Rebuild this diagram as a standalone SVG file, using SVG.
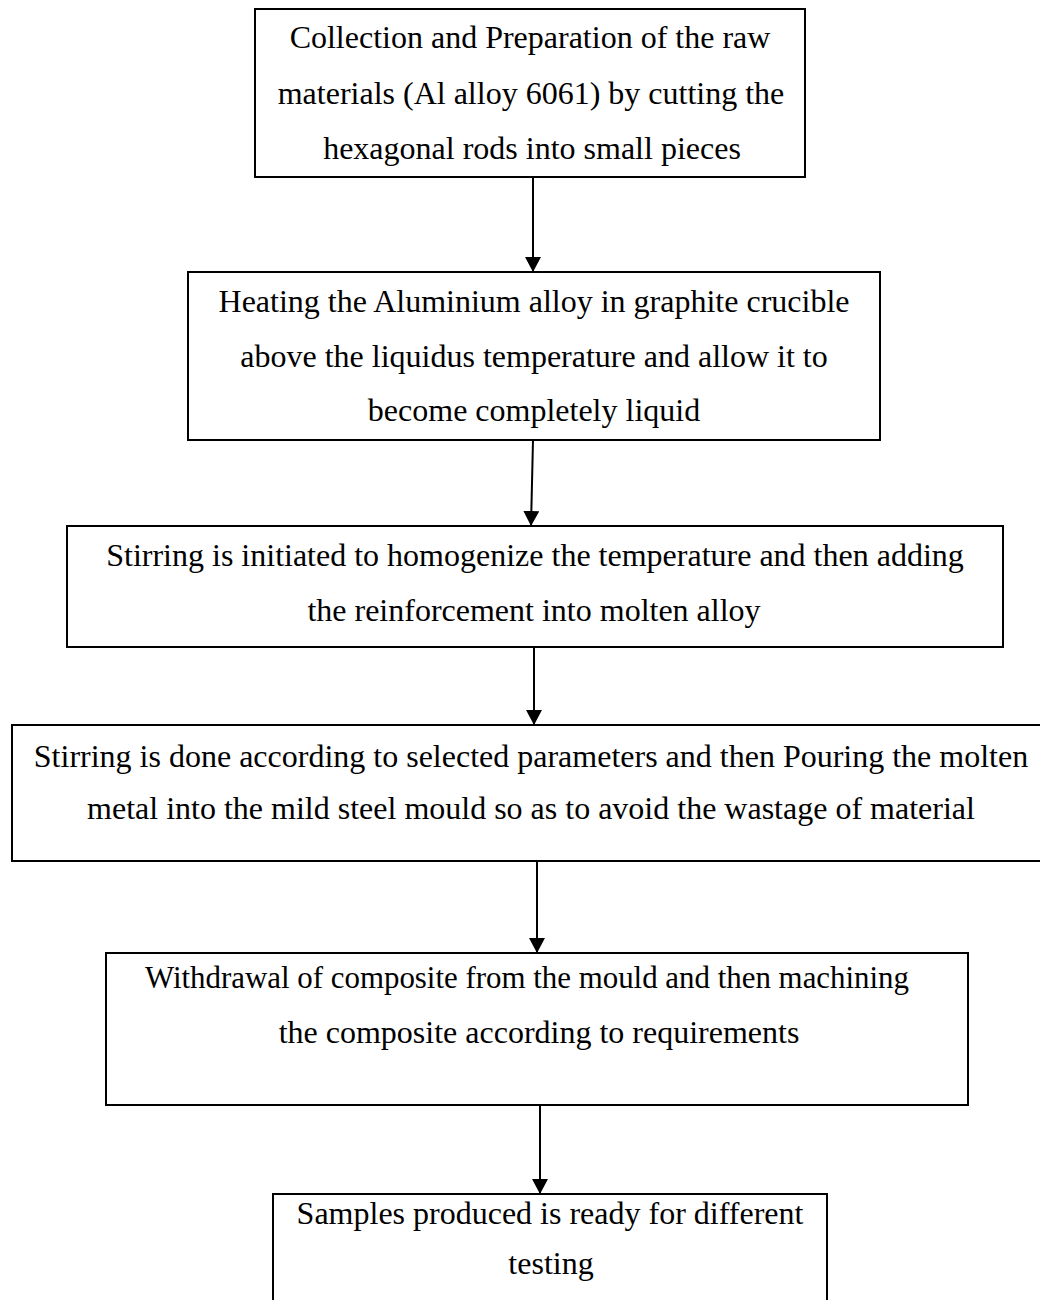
<svg xmlns="http://www.w3.org/2000/svg" width="1040" height="1300" viewBox="0 0 1040 1300">
<defs>
<marker id="arr" markerUnits="userSpaceOnUse" markerWidth="16" markerHeight="16" refX="15" refY="8" orient="auto">
<path d="M0,0 L15,8 L0,16 z" fill="#000"/>
</marker>
<style>
.box{fill:#fff;stroke:#000;stroke-width:2}
.t{font-family:"Liberation Serif","Times New Roman",serif;font-size:32px;fill:#000;text-anchor:middle}
.c{stroke:#000;stroke-width:2;fill:none;marker-end:url(#arr)}
</style>
</defs>
<rect width="1040" height="1300" fill="#fff"/>
<g id="connectors">
<line class="c" x1="533" y1="177" x2="533" y2="272"/>
<line class="c" x1="533" y1="440" x2="531" y2="526"/>
<line class="c" x1="534" y1="647" x2="534" y2="725"/>
<line class="c" x1="537" y1="861" x2="537" y2="953"/>
<line class="c" x1="540" y1="1105" x2="540" y2="1194"/>
</g>
<g id="n1">
<rect class="box" x="255" y="9" width="550" height="168"/>
<text class="t" x="530" y="48">Collection and Preparation of the raw</text>
<text class="t" x="531" y="104">materials (Al alloy 6061) by cutting the</text>
<text class="t" x="532" y="159">hexagonal rods into small pieces</text>
</g>
<g id="n2">
<rect class="box" x="188" y="272" width="692" height="168"/>
<text class="t" x="534" y="312">Heating the Aluminium alloy in graphite crucible</text>
<text class="t" x="534" y="367">above the liquidus temperature and allow it to</text>
<text class="t" x="534" y="421">become completely liquid</text>
</g>
<g id="n3">
<rect class="box" x="67" y="526" width="936" height="121"/>
<text class="t" x="535" y="566">Stirring is initiated to homogenize the temperature and then adding</text>
<text class="t" x="534" y="621">the reinforcement into molten alloy</text>
</g>
<g id="n4">
<rect class="box" x="12" y="725" width="1040" height="136"/>
<text class="t" x="531" y="767">Stirring is done according to selected parameters and then Pouring the molten</text>
<text class="t" x="531" y="819">metal into the mild steel mould so as to avoid the wastage of material</text>
</g>
<g id="n5">
<rect class="box" x="106" y="953" width="862" height="152"/>
<text class="t" x="527" y="988" textLength="764" lengthAdjust="spacingAndGlyphs">Withdrawal of composite from the mould and then machining</text>
<text class="t" x="539" y="1043">the composite according to requirements</text>
</g>
<g id="n6">
<rect class="box" x="273" y="1194" width="554" height="130"/>
<text class="t" x="550" y="1224">Samples produced is ready for different</text>
<text class="t" x="551" y="1274">testing</text>
</g>
</svg>
